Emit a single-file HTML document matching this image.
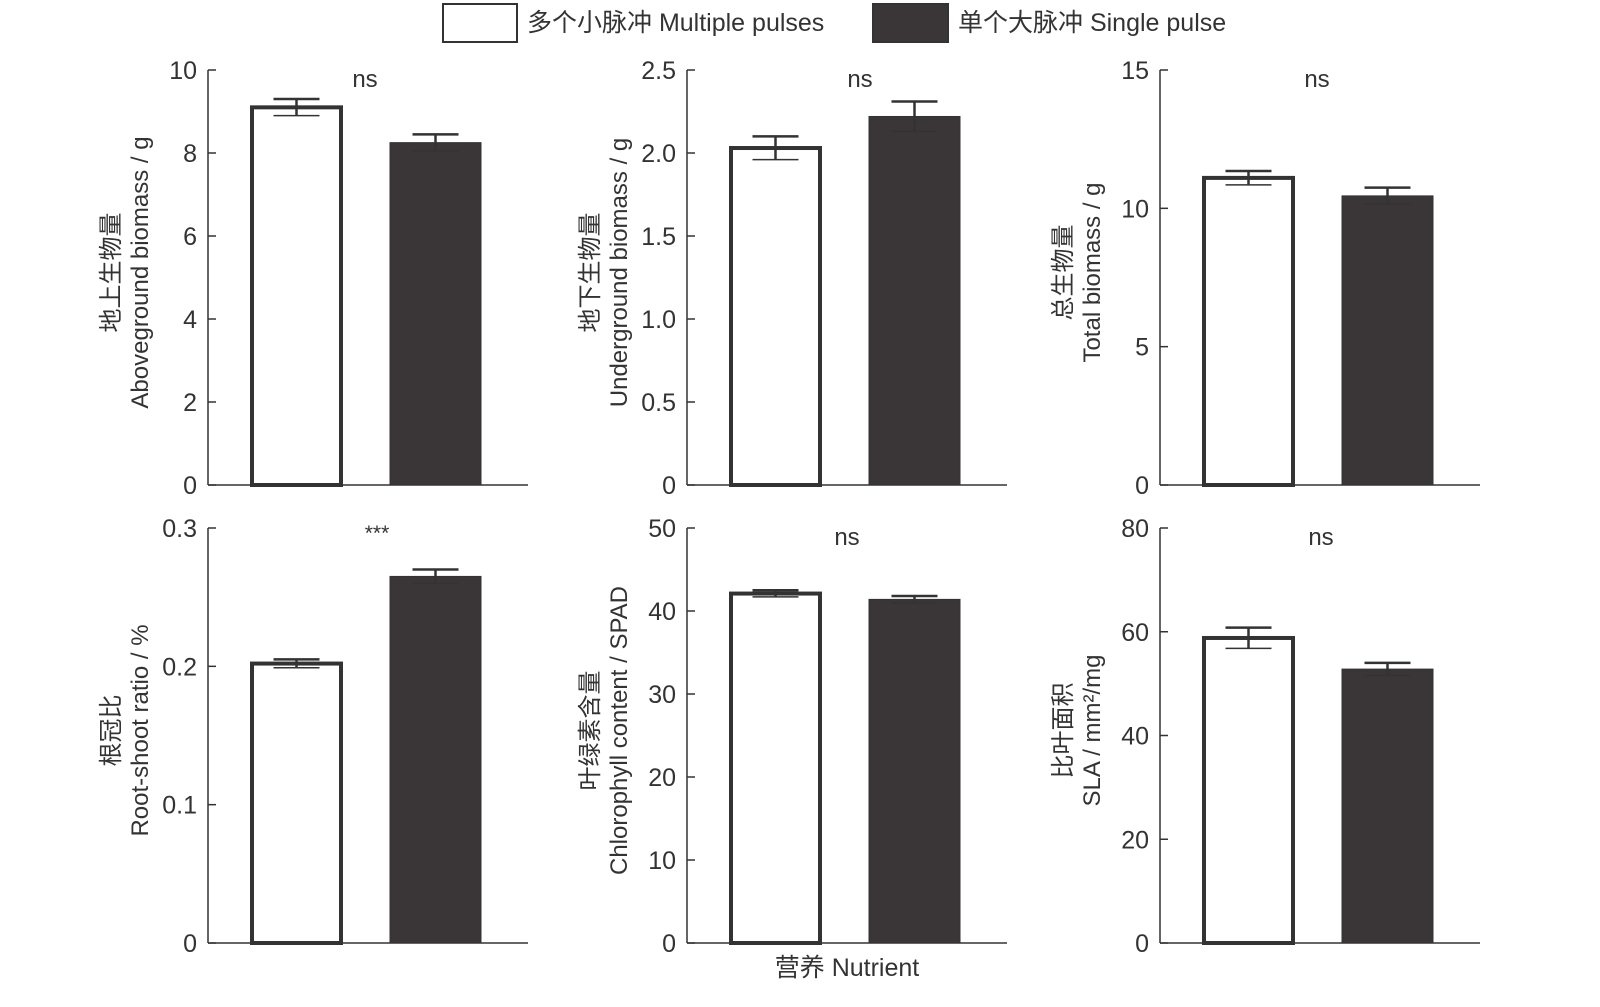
<!DOCTYPE html>
<html><head><meta charset="utf-8">
<style>
html,body{margin:0;padding:0;background:#fff;}
svg{display:block;font-family:"Liberation Sans","Noto Sans CJK SC",sans-serif;}
</style></head>
<body>
<svg id="chart" width="1600" height="1007" viewBox="0 0 1600 1007">
  <g>
    <rect x="443" y="4" width="74" height="38" fill="#fff" stroke="#333" stroke-width="2"/>
    <text x="527" y="31" font-size="25" fill="#333">多个小脉冲 Multiple pulses</text>
    <rect x="873" y="4" width="75" height="38" fill="#3a3637" stroke="#333" stroke-width="2"/>
    <text x="958" y="31" font-size="25" fill="#333">单个大脉冲 Single pulse</text>
  </g>
  <text x="847" y="976" font-size="25" fill="#333" text-anchor="middle">营养 Nutrient</text>
</svg>
<script>
const panelNames = ["aboveground","underground","total","root-shoot","chlorophyll","sla"];
const multipleValues = [9.1, 2.03, 11.1, 0.202, 42.1, 58.8];
const multipleErrors = [0.2, 0.07, 0.25, 0.003, 0.4, 2.0];
const singleValues = [8.25, 2.22, 10.45, 0.265, 41.4, 52.8];
const singleErrors = [0.2, 0.09, 0.3, 0.005, 0.4, 1.2];
const yMax = [10, 2.5, 15, 0.3, 50, 80];
const tickValues = [[0,2,4,6,8,10],[0,0.5,1,1.5,2,2.5],[0,5,10,15],[0,0.1,0.2,0.3],[0,10,20,30,40,50],[0,20,40,60,80]];
const tickLabels = [["0","2","4","6","8","10"],["0","0.5","1.0","1.5","2.0","2.5"],["0","5","10","15"],["0","0.1","0.2","0.3"],["0","10","20","30","40","50"],["0","20","40","60","80"]];
const sigLabels = ["ns","ns","ns","***","ns","ns"];
const titleCN = ["地上生物量","地下生物量","总生物量","根冠比","叶绿素含量","比叶面积"];
const titleEN = ["Aboveground biomass / g","Underground biomass / g","Total biomass / g","Root-shoot ratio / %","Chlorophyll content / SPAD","SLA / mm²/mg"];

const NS = "http://www.w3.org/2000/svg";
const svg = document.getElementById("chart");
function mk(tag, attrs, parent){const e=document.createElementNS(NS,tag);for(const k in attrs)e.setAttribute(k,attrs[k]);(parent||svg).appendChild(e);return e;}

const axisX = [208, 687, 1160, 208, 687, 1160];
const topY = [70, 70, 70, 528, 528, 528];
const botY = [485, 485, 485, 943, 943, 943];
const sigX = [365, 860, 1317, 377, 847, 1321];

for (let i=0;i<6;i++){
  const g = mk("g",{});
  
  
  const ax = axisX[i], t = topY[i], b = botY[i];
  const y = v => b - (v / yMax[i]) * (b - t);
  const line = mk("line",{x1:ax,y1:t,x2:ax,y2:b,stroke:"#333","stroke-width":1.5},g);
  
  
  const xl = mk("line",{x1:ax,y1:b,x2:ax+320,y2:b,stroke:"#333","stroke-width":1.5},g);
  
  
  tickValues[i].forEach((tv,k)=>{
    const ty = y(tv);
    const tk = mk("line",{x1:ax,y1:ty,x2:ax+8,y2:ty,stroke:"#333","stroke-width":1.5},g);
    
    
    const tl = mk("text",{x:ax-11,y:ty+9,"font-size":25,fill:"#333","text-anchor":"end"},g);
    tl.textContent = tickLabels[i][k];
    
    
  });
  const bars = [[multipleValues[i],multipleErrors[i],ax+44,89,"#fff"],[singleValues[i],singleErrors[i],ax+182,91,"#3a3637"]];
  bars.forEach((bd,k)=>{
    const [v,e,x,w,fill]=bd;
    const yv=y(v);
    const r = mk("rect",{x:x,y:yv,width:w,height:b-yv,fill:fill,stroke:"#333","stroke-width":k?1:4},g);
    
    
    const cx = x + w/2;
    const eg = mk("g",{stroke:"#333","stroke-width":2.5},g);
    
    
    mk("line",{x1:cx,y1:y(v+e),x2:cx,y2:y(v-e)},eg);
    mk("line",{x1:cx-23,y1:y(v+e),x2:cx+23,y2:y(v+e)},eg);
    mk("line",{x1:cx-23,y1:y(v-e),x2:cx+23,y2:y(v-e),"stroke-width":1.5},eg);
  });
  const s = mk("text",{x:sigX[i],y:t+(i===3?12:17),"font-size":i===3?21:24,fill:"#333","text-anchor":"middle"},g);
  s.textContent = sigLabels[i];
  
  
  const cy = (t+b)/2 - 5;
  const tg = mk("text",{transform:`translate(${ax-60},${cy}) rotate(-90)`,"font-size":24,fill:"#333","text-anchor":"middle"},g);
  
  
  const t1 = mk("tspan",{x:0,dy:-29},tg); t1.textContent = titleCN[i];
  const t2 = mk("tspan",{x:0,dy:29},tg); t2.textContent = titleEN[i];
}
</script>
</body></html>
